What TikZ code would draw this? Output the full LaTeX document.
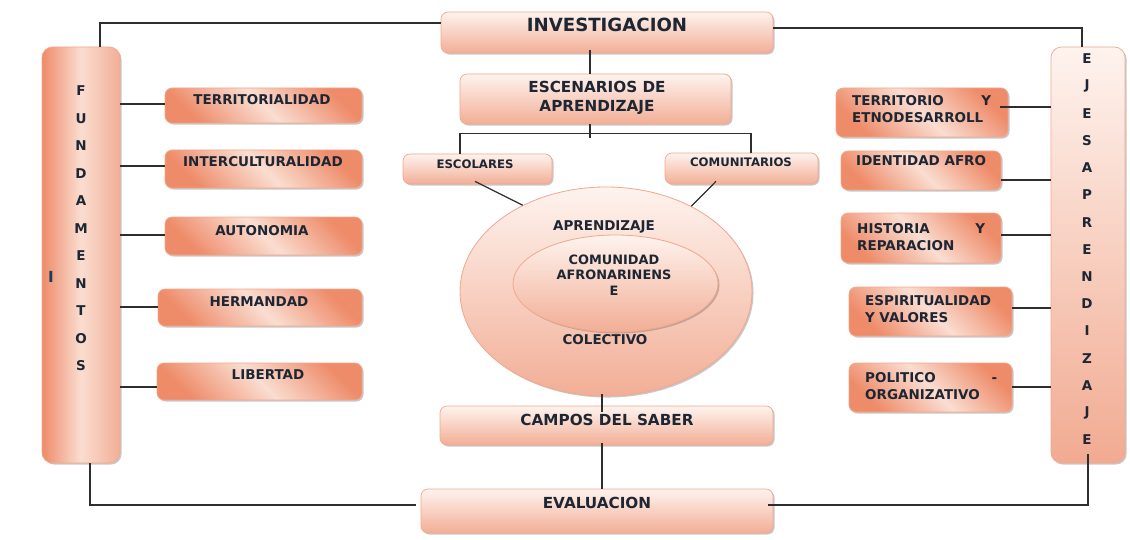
\documentclass[tikz,border=0pt]{standalone}
\usepackage{fontspec}
\setmainfont{DejaVu Sans}
\usetikzlibrary{calc,shadows,shapes.geometric}
\definecolor{bord}{HTML}{F2A88E}
\definecolor{dk}{HTML}{EE8B69}
\definecolor{lt}{HTML}{FADDD1}
\definecolor{pale}{HTML}{FEF3EE}
\definecolor{mid}{HTML}{F2AE96}
\definecolor{txt}{HTML}{1E2633}
\definecolor{ln}{HTML}{2E2E2E}
\definecolor{teal}{HTML}{17405A}
\newcommand\bx[6]{\node[#6, minimum width={(#4-#2)*0.03cm}, minimum height={(#5-#3)*0.03cm}] (#1) at ({(#2+#4)/2},{(#3+#5)/2}) {};}
\tikzset{
  base/.style={rectangle, rounded corners=6pt, draw=bord, line width=0.6pt, inner sep=0pt,
    drop shadow={shadow xshift=1.3pt, shadow yshift=-1.3pt, opacity=0.3, fill=black!70}},
  sidebox/.style={base, top color=dk, bottom color=dk, middle color=lt, shading angle=-45},
  hbox/.style={base, top color=pale, bottom color=mid},
  fundbox/.style={base, rounded corners=9pt, left color=dk, right color=mid, middle color=lt},
  ejesbox/.style={base, rounded corners=9pt, top color=pale, bottom color=mid!90!dk},
  ell/.style={ellipse, draw=bord, line width=0.7pt, inner sep=0pt, top color=pale, bottom color=mid,
    drop shadow={shadow xshift=1.3pt, shadow yshift=-1.3pt, opacity=0.3, fill=black!70}},
  conn/.style={draw=ln, line width=1.05pt},
  lbl/.style={text=txt, inner sep=0pt, font=\bfseries\fontsize{11.5}{14.5}\selectfont},
  small/.style={text=txt, inner sep=0pt, font=\bfseries\fontsize{10}{12}\selectfont},
  big/.style={text=txt, inner sep=0pt, font=\bfseries\fontsize{13}{16}\selectfont},
  huge/.style={text=txt, inner sep=0pt, font=\bfseries\fontsize{15.5}{18}\selectfont},
  vlet/.style={text=txt, inner sep=0pt, font=\bfseries\fontsize{11.5}{14}\selectfont},
}
\begin{document}
\begin{tikzpicture}[x=0.03cm, y=-0.03cm]
\useasboundingbox[fill=white] (0,0) rectangle (1130,540);

\bx{fund}{42}{47}{120}{463}{fundbox}
\bx{ejes}{1051}{47}{1125}{463}{ejesbox}
\bx{inv}{441}{12}{773}{53}{hbox}
\bx{esc}{460}{74}{731}{124}{hbox}
\bx{escol}{403}{154}{552}{184}{hbox}
\bx{comu}{665}{153}{818}{184}{hbox}
\bx{campos}{440}{406}{773}{445}{hbox}
\bx{eval}{421}{489}{773}{533}{hbox}
\bx{l1}{165}{88}{362}{123}{sidebox}
\bx{l2}{165}{150}{362}{188}{sidebox}
\bx{l3}{165}{217}{362}{255}{sidebox}
\bx{l4}{158}{289}{362}{326}{sidebox}
\bx{l5}{157}{363}{362}{400}{sidebox}
\bx{r1}{836}{88}{1008}{137}{sidebox}
\bx{r2}{841}{151}{1001}{190}{sidebox}
\bx{r3}{841}{213}{1001}{263}{sidebox}
\bx{r4}{849}{287}{1012}{336}{sidebox}
\bx{r5}{849}{363}{1012}{412}{sidebox}
\node[ell, minimum width=292*0.03cm, minimum height=209*0.03cm] (outer) at (606,291.5) {};
\node[ell, minimum width=205*0.03cm, minimum height=97*0.03cm] (inner) at (615.5,283.5) {};

% texts
\node[huge] (tinv) at (607,25) {INVESTIGACION};
\node[big, align=center, font=\bfseries\fontsize{13}{16.2}\selectfont] (tesc) at (597,97.5) {ESCENARIOS DE\\APRENDIZAJE};
\node[small] (tescol) at (475,164) {ESCOLARES};
\node[small] (tcomu) at (741,162) {COMUNITARIOS};
\node[lbl] (tapr) at (604,227) {APRENDIZAJE};
\node[lbl, align=center, font=\bfseries\fontsize{11}{13.2}\selectfont] (tcom) at (614,275) {COMUNIDAD\\AFRONARINENS\\E};
\node[lbl] (tcol) at (605,340) {COLECTIVO};
\node[big] (tcampos) at (607,420) {CAMPOS DEL SABER};
\node[big] (teval) at (597,503) {EVALUACION};
\node[lbl] (tl1) at (262,100) {TERRITORIALIDAD};
\node[lbl] (tl2) at (263,162) {INTERCULTURALIDAD};
\node[lbl] (tl3) at (262,231) {AUTONOMIA};
\node[lbl] (tl4) at (259,302) {HERMANDAD};
\node[lbl] (tl5) at (268,375) {LIBERTAD};
\node[lbl, anchor=north west, text width=139*0.03cm, align=left] (tr1) at (852,95) {TERRITORIO\hfill Y\\ETNODESARROLL};
\node[lbl, anchor=west] (tr2) at (856,161) {IDENTIDAD AFRO};
\node[lbl, anchor=north west, text width=128*0.03cm, align=left] (tr3) at (857,223) {HISTORIA\hfill Y\\REPARACION};
\node[lbl, anchor=north west, text width=128*0.03cm, align=left] (tr4) at (865,295) {ESPIRITUALIDAD\\Y VALORES};
\node[lbl, anchor=north west, text width=132*0.03cm, align=left] (tr5) at (865,372) {POLITICO\hfill -\\ORGANIZATIVO};
\foreach \l [count=\i] in {F,U,N,D,A,M,E,N,T,O,S}
  \node[vlet] (f\i) at (81,{91+27.5*(\i-1)}) {\l};
\foreach \l [count=\i] in {E,J,E,S,A,P,R,E,N,D,I,Z,A,J,E}
  \node[vlet] (e\i) at (1087,{59+27.2*(\i-1)}) {\l};
\node[text=teal, inner sep=0pt, font=\bfseries\fontsize{13}{15}\selectfont] (fi) at (51,277) {I};

% connectors
\draw[conn] ($(inv.west)+(0,-9.5)$) -| ($(fund.north)+(19,0)$);
\draw[conn] ($(inv.east)+(0,-4.5)$) -| ($(ejes.north)+(-6,0)$);
\draw[conn] ($(inv.south)+(-17,-3)$) -- ($(esc.north)+(-5.5,0)$);
\coordinate (brk) at ($(esc.south)+(-5.5,9.5)$);
\draw[conn] ($(esc.south)+(-5.5,0)$) -- ($(esc.south)+(-5.5,14)$);
\draw[conn] ($(escol.north)+(-17.5,0)$) |- (brk) -| ($(comu.north)+(9.5,0)$);
\draw[conn] ($(escol.south)+(-2.5,-3)$) -- (outer.134);
\draw[conn] ($(comu.south)+(-25.5,-3)$) -- (outer.45);
\draw[conn] ($(outer.south)+(-4,-2)$) -- ($(campos.north)+(-4.5,6)$);
\draw[conn] ($(campos.south)+(-4.5,-2)$) -- ($(eval.north)+(5,0)$);
\draw[conn] ($(eval.west)+(-5,-6)$) -| ($(fund.south)+(9,0)$);
\draw[conn] ($(eval.east)+(-5,-6)$) -| ($(ejes.south)+(0,-9)$);
\coordinate (c1) at ($(l1.west)+(0,-1.5)$);
\coordinate (c2) at ($(l2.west)+(0,-3)$);
\coordinate (c3) at ($(l3.west)+(0,-1)$);
\coordinate (c4) at ($(l4.west)+(0,-0.5)$);
\coordinate (c5) at ($(l5.west)+(0,5.5)$);
\foreach \c in {c1,c2,c3,c4,c5}
  \draw[conn] (\c) -- (\c -| fund.east);
\coordinate (d1) at ($(r1.east)+(-8,-5.5)$);
\coordinate (d2) at ($(r2.east)+(0,9.5)$);
\coordinate (d3) at ($(r3.east)+(0,-3)$);
\coordinate (d4) at ($(r4.east)+(0,-3.5)$);
\coordinate (d5) at ($(r5.east)+(0,-0.5)$);
\foreach \c in {d1,d2,d3,d4,d5}
  \draw[conn] (\c) -- (\c -| ejes.west);
\end{tikzpicture}
\end{document}
